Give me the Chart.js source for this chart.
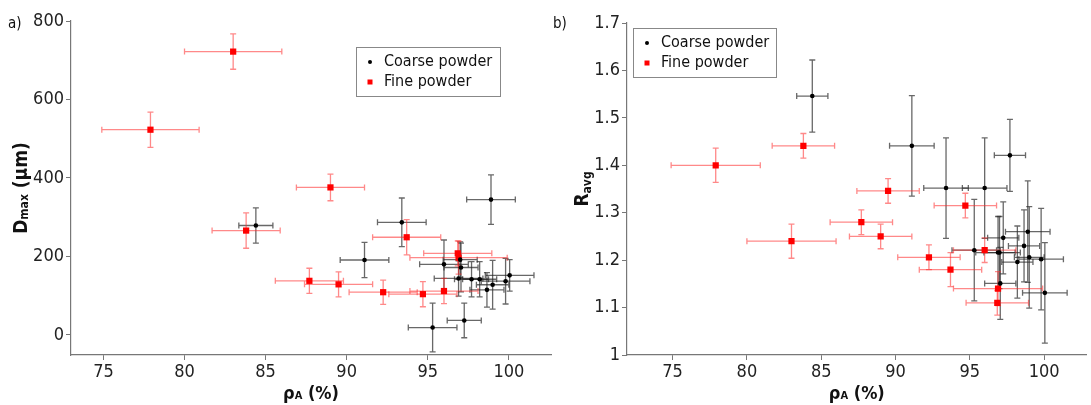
<!DOCTYPE html>
<html>
<head>
<meta charset="utf-8">
<script src="https://cdn.jsdelivr.net/npm/chart.js@4.4.0/dist/chart.umd.min.js"></script>
<style>
  body { margin: 0; background: #fff; }
  #wrap { position: relative; width: 1091px; height: 405px; overflow: hidden; }
  canvas { position: absolute; top: 0; }
  #chartA { left: 0; }
  #chartB { left: 545px; }
</style>
</head>
<body>
<div id="wrap">
  <canvas id="chartA" width="560" height="405"></canvas>
  <canvas id="chartB" width="546" height="405"></canvas>
</div>
<script>
// coarse powder samples
const coarseRho     = [84.4, 91.1, 93.4, 95.3, 96.0, 96.9, 97.0, 97.05, 97.25, 97.7, 98.2, 98.65, 98.9, 99.0, 99.8, 100.05];
const coarseRhoErr  = [1.05, 1.5, 1.5, 1.5, 1.5, 1.5, 1.05, 1.05, 1.05, 1.05, 1.05, 1.05, 1.5, 1.0, 1.5, 1.5];
const coarseDmax    = [279, 191, 287, 19, 180, 144, 192, 172, 37, 142, 142, 115, 345, 128, 137, 152];
const coarseDmaxErr = [45, 45, 62, 62, 62, 45, 45, 62, 44, 45, 45, 44, 63, 62, 58, 40];
const coarseRavg    = [1.546, 1.441, 1.352, 1.221, 1.352, 1.216, 1.216, 1.151, 1.247, 1.421, 1.196, 1.23, 1.26, 1.206, 1.202, 1.131];
const coarseRavgErr = [0.076, 0.106, 0.106, 0.107, 0.106, 0.076, 0.076, 0.076, 0.076, 0.076, 0.076, 0.076, 0.107, 0.107, 0.107, 0.106];

// fine powder samples
const fineRho     = [77.9, 83.0, 83.8, 87.7, 89.0, 89.5, 92.25, 93.7, 94.7, 96.0, 96.85, 96.9];
const fineRhoErr  = [3.0, 3.0, 2.1, 2.1, 2.1, 2.1, 2.1, 2.1, 2.1, 2.1, 2.1, 3.0];
const fineDmax    = [523, 722, 266, 138, 376, 129, 109, 249, 104, 112, 208, 197];
const fineDmaxErr = [45, 45, 45, 32, 34, 32, 31, 45, 32, 32, 32, 42];
const fineRavg    = [1.40, 1.24, 1.441, 1.28, 1.25, 1.346, 1.206, 1.18, 1.315, 1.221, 1.11, 1.14];
const fineRavgErr = [0.036, 0.036, 0.026, 0.026, 0.026, 0.026, 0.026, 0.036, 0.026, 0.026, 0.026, 0.036];

const seriesNames = ['Coarse powder', 'Fine powder'];
const rhoTicks  = [75, 80, 85, 90, 95, 100];
const dmaxTicks = [0, 200, 400, 600, 800];
const ravgTicks = [1, 1.1, 1.2, 1.3, 1.4, 1.5, 1.6, 1.7];

const FONT = '"DejaVu Sans Condensed", "DejaVu Sans", sans-serif';

function points(xs, xe, ys, ye) {
  return xs.map((x, i) => ({ x: x, y: ys[i], xErr: xe[i], yErr: ye[i] }));
}

// error bars drawn under the markers
const errorBars = {
  id: 'errorBars',
  beforeDatasetsDraw(chart) {
    const ctx = chart.ctx;
    const sx = chart.scales.x, sy = chart.scales.y;
    chart.data.datasets.forEach(ds => {
      ctx.save();
      ctx.strokeStyle = ds.barColor;
      ctx.lineWidth = 1.3;
      ds.data.forEach(p => {
        const cx = sx.getPixelForValue(p.x), cy = sy.getPixelForValue(p.y);
        const x0 = sx.getPixelForValue(p.x - p.xErr), x1 = sx.getPixelForValue(p.x + p.xErr);
        const y0 = sy.getPixelForValue(p.y - p.yErr), y1 = sy.getPixelForValue(p.y + p.yErr);
        ctx.beginPath();
        ctx.moveTo(x0, cy); ctx.lineTo(x1, cy);
        ctx.moveTo(x0, cy - 3); ctx.lineTo(x0, cy + 3);
        ctx.moveTo(x1, cy - 3); ctx.lineTo(x1, cy + 3);
        ctx.moveTo(cx, y0); ctx.lineTo(cx, y1);
        ctx.moveTo(cx - 3, y0); ctx.lineTo(cx + 3, y0);
        ctx.moveTo(cx - 3, y1); ctx.lineTo(cx + 3, y1);
        ctx.stroke();
      });
      ctx.restore();
    });
  }
};

function drawRich(ctx, parts, x, y) {
  let total = 0;
  parts.forEach(p => {
    ctx.font = (p.bold ? 'bold ' : '') + p.size + 'px ' + FONT;
    p.w = ctx.measureText(p.t).width;
    total += p.w;
  });
  let cx = x - total / 2;
  ctx.textAlign = 'left';
  ctx.textBaseline = 'alphabetic';
  parts.forEach(p => {
    ctx.font = (p.bold ? 'bold ' : '') + p.size + 'px ' + FONT;
    ctx.fillText(p.t, cx, y + (p.dy || 0));
    cx += p.w;
  });
}

// panel letter, axis titles and legend box
function decor(cfg) {
  return {
    id: 'decor',
    afterDraw(chart) {
      const ctx = chart.ctx;
      const area = chart.chartArea;
      ctx.save();
      ctx.fillStyle = '#111';
      ctx.font = '15px ' + FONT;
      ctx.textAlign = 'left';
      ctx.textBaseline = 'alphabetic';
      ctx.fillText(cfg.letter, 8, 28);

      drawRich(ctx, [
        { t: 'ρ', size: 18, bold: true },
        { t: 'A', size: 11, bold: true },
        { t: ' (%)', size: 18, bold: true }
      ], (area.left + area.right) / 2, 399);

      ctx.save();
      ctx.translate(cfg.yTitleX, (area.top + area.bottom) / 2);
      ctx.rotate(-Math.PI / 2);
      drawRich(ctx, cfg.yTitle, 0, 0);
      ctx.restore();

      const lg = cfg.legend;
      ctx.fillStyle = '#fff';
      ctx.fillRect(lg.x, lg.y, lg.w, lg.h);
      ctx.strokeStyle = '#888';
      ctx.lineWidth = 1;
      ctx.strokeRect(lg.x + 0.5, lg.y + 0.5, lg.w, lg.h);
      const rows = [lg.y + 15, lg.y + 35];
      ctx.fillStyle = '#000';
      ctx.beginPath();
      ctx.arc(lg.x + 14, rows[0], 2, 0, Math.PI * 2);
      ctx.fill();
      ctx.fillStyle = '#ff0000';
      ctx.fillRect(lg.x + 11.5, rows[1] - 2.5, 5, 5);
      ctx.fillStyle = '#111';
      ctx.font = '16px ' + FONT;
      ctx.textBaseline = 'middle';
      ctx.fillText(seriesNames[0], lg.x + 28, rows[0]);
      ctx.fillText(seriesNames[1], lg.x + 28, rows[1]);
      ctx.restore();
    }
  };
}

function axis(min, max, ticks, fit) {
  return {
    type: 'linear',
    min: min,
    max: max,
    afterBuildTicks: s => { s.ticks = ticks.map(v => ({ value: v })); },
    afterFit: fit,
    grid: { drawOnChartArea: false, drawTicks: true, tickLength: 5, color: '#777', lineWidth: 1 },
    border: { color: '#777', width: 1.2 },
    ticks: {
      color: '#222', font: { size: 18, family: FONT }, padding: 2, autoSkip: false, maxRotation: 0,
      callback: v => String(Math.round(v * 10) / 10)
    }
  };
}

function makeChart(id, yData, yErrs, yMin, yMax, yTicks, pad, yWidth, xMin, xMax, cfg) {
  return new Chart(document.getElementById(id), {
    type: 'scatter',
    data: {
      datasets: [
        {
          label: seriesNames[0],
          data: points(coarseRho, coarseRhoErr, yData[0], yErrs[0]),
          pointStyle: 'circle', pointRadius: 2.3, borderWidth: 0,
          backgroundColor: '#000', barColor: 'rgba(40,40,40,0.7)'
        },
        {
          label: seriesNames[1],
          data: points(fineRho, fineRhoErr, yData[1], yErrs[1]),
          pointStyle: 'rect', pointRadius: 4.4, borderWidth: 0,
          backgroundColor: '#ff0000', barColor: 'rgba(255,40,40,0.55)'
        }
      ]
    },
    options: {
      responsive: false,
      animation: false,
      devicePixelRatio: 1,
      layout: { padding: pad },
      plugins: { legend: { display: false }, tooltip: { enabled: false } },
      scales: {
        x: axis(xMin, xMax, rhoTicks, s => { s.height = 50; }),
        y: axis(yMin, yMax, yTicks, s => { s.width = yWidth; })
      }
    },
    plugins: [errorBars, decor(cfg)]
  });
}

makeChart('chartA', [coarseDmax, fineDmax], [coarseDmaxErr, fineDmaxErr], -51, 800, dmaxTicks,
  { top: 21, right: 9, left: 0, bottom: 0 }, 71, 73, 102.6, {
    letter: 'a)',
    yTitleX: 27,
    yTitle: [
      { t: 'D', size: 19, bold: true },
      { t: 'max', size: 12, bold: true, dy: 1 },
      { t: ' (μm)', size: 19, bold: true }
    ],
    legend: { x: 356, y: 47, w: 144, h: 49 }
  });

makeChart('chartB', [coarseRavg, fineRavg], [coarseRavgErr, fineRavgErr], 1, 1.7, ravgTicks,
  { top: 23, right: 0, left: 0, bottom: 0 }, 82, 71.93, 102.86, {
    letter: 'b)',
    yTitleX: 43,
    yTitle: [
      { t: 'R', size: 19, bold: true },
      { t: 'avg', size: 12, bold: true, dy: 3 }
    ],
    legend: { x: 88, y: 28, w: 143, h: 49 }
  });
</script>
</body>
</html>
